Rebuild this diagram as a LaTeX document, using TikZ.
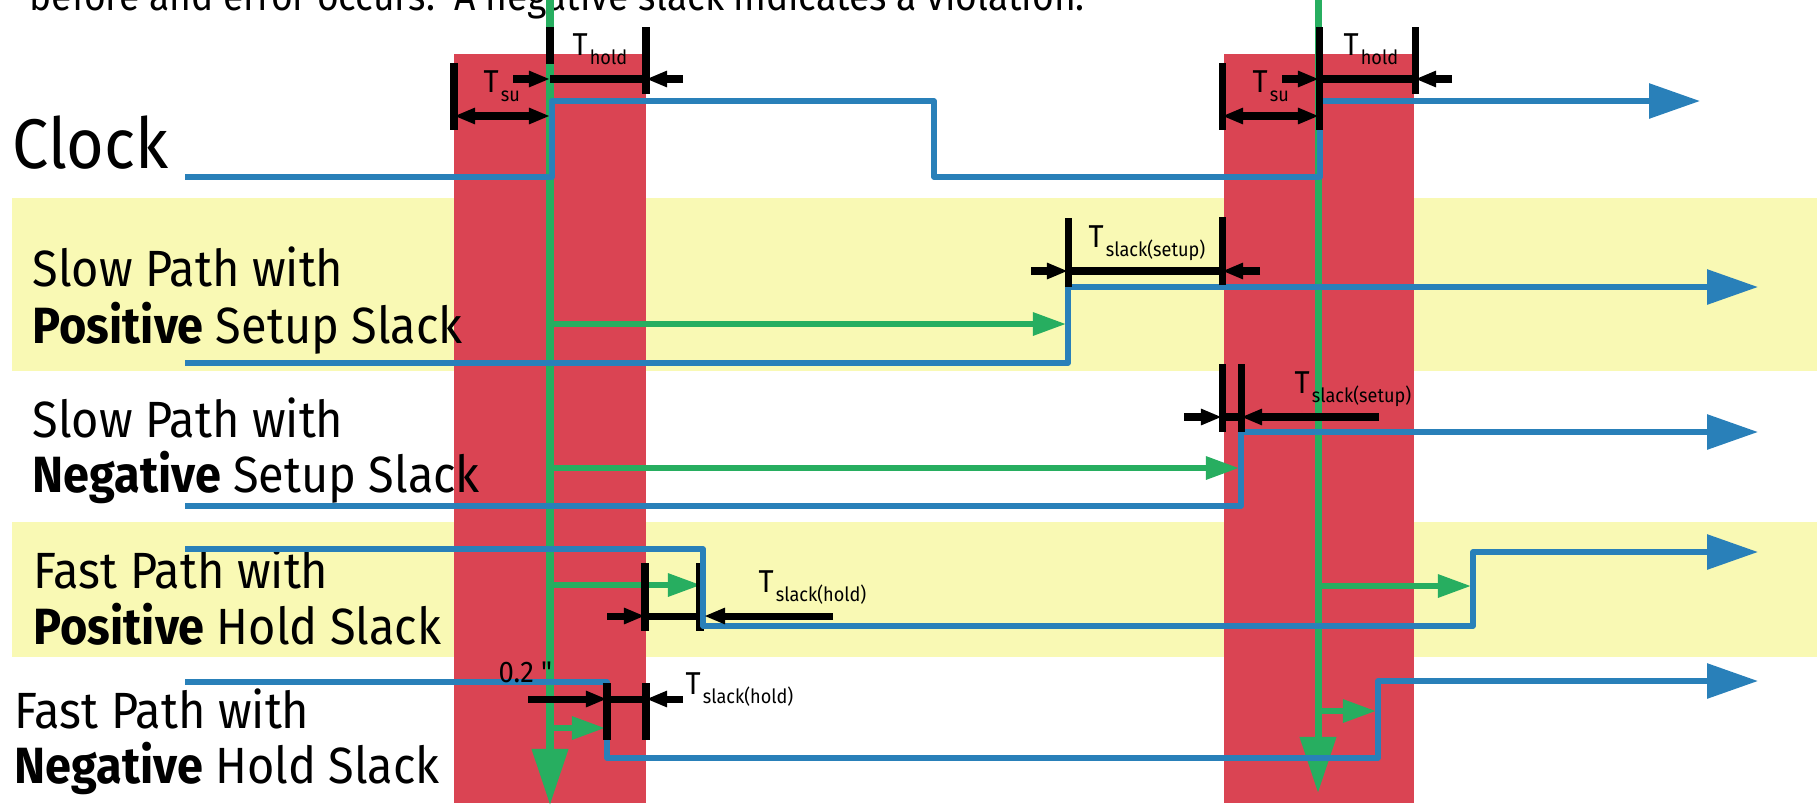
\documentclass[tikz,border=0pt]{standalone}
\usepackage{fontspec}
\setmainfont{Fira Sans}[FakeStretch=0.92]
\newfontfamily\rawfont{Fira Sans}[FakeStretch=0.92]
\usepackage{tikz}
\usetikzlibrary{arrows.meta}
\definecolor{bandred}{HTML}{DA4453}
\definecolor{bandyellow}{HTML}{F9F9B4}
\definecolor{sigblue}{HTML}{2980B9}
\definecolor{clkgreen}{HTML}{27AE60}
\newcommand{\Tsub}[1]{T\hspace{0.6pt}\raisebox{-2.8pt}{\fontsize{5.6}{6}\selectfont #1}}

\begin{document}
\begin{tikzpicture}[x=0.1mm, y=-0.1mm, line join=round,
  every node/.style={inner sep=0pt, anchor=base west},
  lbl/.style={font=\fontsize{14.5}{16}\selectfont},
  tlbl/.style={font=\fontsize{9}{10}\selectfont},
  sig/.style={sigblue, line width=1.6pt},
  sigend/.style={-{Triangle[length=14.5pt,width=9.7pt]}},
  clk/.style={clkgreen, line width=2pt, -{Triangle[length=16pt,width=10pt]}},
  launch/.style={clkgreen, line width=1.6pt, -{Triangle[length=9.4pt,width=6.3pt]}},
  dimbar/.style={black, line width=2pt},
  dimarrow/.style={black, line width=2pt, -{Triangle[length=6pt,width=4.3pt]}},
  dimboth/.style={black, line width=2pt, {Triangle[length=6pt,width=4.3pt]}-{Triangle[length=6pt,width=4.3pt]}}]
\useasboundingbox (0,0) rectangle (1817,807);

% ---------------- background bands ----------------------------------------
\fill[bandyellow] (12,198) rectangle (1817,371);
\fill[bandyellow] (12,522) rectangle (1817,657);
\fill[bandred] (454,54) rectangle (646,803);
\fill[bandred] (1224,54) rectangle (1414,803);

% ---------------- text ------------------------------------------------------
\node[font=\fontsize{11.5}{13}\selectfont] (caption) at (29,10)
  {before and error occurs.\ \ A negative slack indicates a violation.};
\node[font=\fontsize{20}{22}\selectfont] (lblclock) at (12,168) {Clock};
\node[lbl] (lblsetpos1) at (32,286) {Slow Path with};
\node[lbl] (lblsetpos2) at (32,343) {\textbf{Positive} Setup Slack};
\node[lbl] (lblsetneg1) at (32,437) {Slow Path with};
\node[lbl] (lblsetneg2) at (32,492) {\textbf{Negative} Setup Slack};
\node[lbl] (lblholdpos1) at (33,588) {Fast Path with};
\node[lbl] (lblholdpos2) at (33,644) {\textbf{Positive} Hold Slack};
\node[lbl] (lblholdneg1) at (14,728) {Fast Path with};
\node[lbl] (lblholdneg2) at (14,783) {\textbf{Negative} Hold Slack};

% ---------------- clock edges and launch arrows -----------------------------
\draw[clk] (550,-10) -- (550,805);
\draw[clk] (1318,-10) -- (1318,793);
\draw[launch] (550,324) -- (1066,324);
\draw[launch] (550,468) -- (1239,468);
\draw[launch] (550,585) -- (701,585);
\draw[launch] (1318,586) -- (1471,586);
\draw[launch] (550,728) -- (605,728);
\draw[launch] (1318,711) -- (1376,711);
\draw[dimbar] (700,563) -- (700,631);

% ---------------- signals ---------------------------------------------------
\draw[sig, sigend] (185,177) -- (552,177) -- (552,101) -- (934,101) -- (934,177)
  -- (1320,177) -- (1320,101) -- (1700,101);
\draw[sig, sigend] (185,363) -- (1068,363) -- (1068,287) -- (1758,287);
\draw[sig, sigend] (185,506) -- (1241,506) -- (1241,432) -- (1758,432);
\draw[sig, sigend] (185,549) -- (703,549) -- (703,626) -- (1473,626) -- (1473,552)
  -- (1758,552);
\draw[sig, sigend] (185,682) -- (607,682) -- (607,758) -- (1378,758) -- (1378,681)
  -- (1758,681);

% ---------------- setup / hold windows --------------------------------------
\foreach \xc/\xs/\xh in {550/454/646, 1319/1222/1415} {
  \draw[dimbar] (\xs,63) -- (\xs,130);
  \draw[dimbar] (\xh,27) -- (\xh,94);
  \draw[dimboth] (\xs,116) -- (\xc,116);
  \draw[dimarrow] (\xc-37,79) -- (\xc,79);
  \draw[dimbar] (\xc,79) -- (\xh,79);
  \draw[dimarrow] (\xh+37,79) -- (\xh,79);
}
\draw[dimbar] (550,27) -- (550,64);
\draw[dimbar] (1319,27) -- (1319,130);
\node[tlbl] (tsuL) at (483,92) {\Tsub{su}};
\node[tlbl] (tholdL) at (572,55) {\Tsub{hold}};
\node[tlbl] (tsuR) at (1252,92) {\Tsub{su}};
\node[tlbl] (tholdR) at (1343,55) {\Tsub{hold}};

% ---------------- slack measures --------------------------------------------
\draw[dimbar] (1068,218) -- (1068,287);
\draw[dimbar] (1222,217) -- (1222,285);
\draw[dimarrow] (1031,271) -- (1068,271);
\draw[dimbar] (1068,271) -- (1222,271);
\draw[dimarrow] (1260,271) -- (1222,271);
\node[tlbl] (slackA) at (1088,247) {\Tsub{slack(setup)}};

\draw[dimbar] (1222,364) -- (1222,432);
\draw[dimbar] (1241,364) -- (1241,432);
\draw[dimarrow] (1184,417) -- (1222,417);
\draw[dimbar] (1222,417) -- (1241,417);
\draw[dimarrow] (1379,417) -- (1241,417);
\node[tlbl] (slackB) at (1294,393) {\Tsub{slack(setup)}};

\draw[dimbar] (645,563) -- (645,631);
\draw[dimarrow] (607,616) -- (645,616);
\draw[dimbar] (645,616) -- (700,616);
\draw[dimarrow] (833,616) -- (704,616);
\node[tlbl] (slackC) at (758,592) {\Tsub{slack(hold)}};

\draw[dimbar] (607,683) -- (607,740);
\draw[dimbar] (646,683) -- (646,740);
\draw[dimarrow] (528,699) -- (607,699);
\draw[dimbar] (607,699) -- (646,699);
\draw[dimarrow] (683,699) -- (646,699);
\node[tlbl] (slackD) at (685,694) {\Tsub{slack(hold)}};
\node[font=\rawfont\fontsize{8.5}{10}\selectfont] (inch) at (498,682) {0.2 "};

\end{tikzpicture}
\end{document}
